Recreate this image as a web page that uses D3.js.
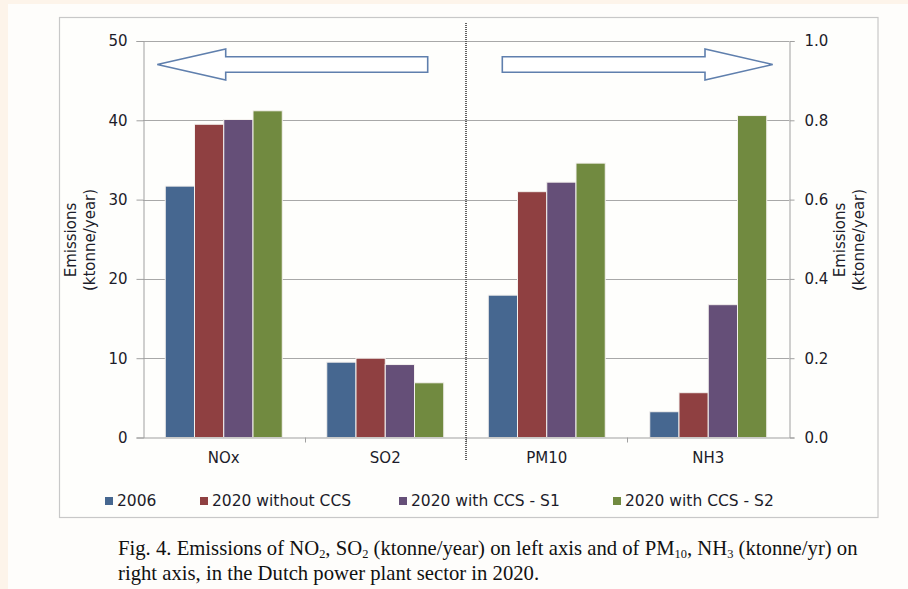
<!DOCTYPE html>
<html>
<head>
<meta charset="utf-8">
<script src="https://cdn.jsdelivr.net/npm/d3@7"></script>
<style>
  html, body { margin: 0; padding: 0; background: #fdf4ea; }
  svg { display: block; }
</style>
</head>
<body>
<svg id="chart" width="908" height="589"></svg>
<script>
// ---- data ----
const categories = ["NOx", "SO2", "PM10", "NH3"];
const categoryAxis = ["left", "left", "right", "right"];
const seriesNames = ["2006", "2020 without CCS", "2020 with CCS - S1", "2020 with CCS - S2"];
const values2006 = [31.7, 9.5, 0.359, 0.065];
const values2020NoCCS = [39.5, 10.0, 0.62, 0.113];
const values2020S1 = [40.1, 9.2, 0.644, 0.335];
const values2020S2 = [41.2, 6.9, 0.692, 0.812];
const leftTicks = [0, 10, 20, 30, 40, 50];
const rightTicks = [0.0, 0.2, 0.4, 0.6, 0.8, 1.0];
const seriesColors = ["#466790", "#8f4041", "#654f78", "#718a40"];

const seriesValues = [values2006, values2020NoCCS, values2020S1, values2020S2];

const svg = d3.select("#chart");
const font = "'DejaVu Sans', Verdana, sans-serif";
const textColor = "#1c1c2a";

// panel background
svg.append("rect").attr("x", 8).attr("y", 4).attr("width", 900).attr("height", 585).attr("fill", "#fefdfb");
// chart box
svg.append("rect").attr("x", 59.5).attr("y", 17.5).attr("width", 818.5).attr("height", 500)
  .attr("fill", "#fefefc").attr("stroke", "#c8c8c8").attr("stroke-width", 1.2);

const plotL = 143, plotR = 789, plotT = 41, plotB = 437.5;

const x = d3.scaleBand().domain(categories).range([plotL, plotR]).paddingInner(0.2755).paddingOuter(0.1378);
const xs = d3.scaleBand().domain(seriesNames).range([0, x.bandwidth()]).padding(0);
const yL = d3.scaleLinear().domain([0, 50]).range([plotB, plotT]);
const yR = d3.scaleLinear().domain([0, 1.0]).range([plotB, plotT]);

// gridlines
svg.append("g").selectAll("line").data(leftTicks.filter(d => d > 0)).join("line")
  .attr("x1", plotL).attr("x2", plotR)
  .attr("y1", d => Math.round(yL(d)) + 0.5).attr("y2", d => Math.round(yL(d)) + 0.5)
  .attr("stroke", "#a8a8a8").attr("stroke-width", 1);

// bars
const barData = [];
categories.forEach((c, ci) => {
  seriesNames.forEach((s, si) => {
    barData.push({ cat: c, series: s, si, value: seriesValues[si][ci], axis: categoryAxis[ci] });
  });
});
svg.append("g").selectAll("rect").data(barData).join("rect")
  .attr("x", d => x(d.cat) + xs(d.series))
  .attr("width", xs.bandwidth())
  .attr("y", d => (d.axis === "left" ? yL : yR)(d.value))
  .attr("height", d => plotB - (d.axis === "left" ? yL : yR)(d.value))
  .attr("fill", d => seriesColors[d.si])
  .attr("stroke", "#f4f1ee").attr("stroke-width", 1);

// left axis
const gL = svg.append("g").attr("transform", `translate(${plotL + 0.5},0)`)
  .call(d3.axisLeft(yL).tickValues(leftTicks).tickFormat(d3.format("d")).tickSizeOuter(0).tickSize(7).tickPadding(9));
// right axis
const gR = svg.append("g").attr("transform", `translate(${plotR + 0.5},0)`)
  .call(d3.axisRight(yR).tickValues(rightTicks).tickFormat(d3.format(".1f")).tickSizeOuter(0).tickSize(5).tickPadding(10));
// bottom axis
const gB = svg.append("g").attr("transform", `translate(0,${plotB})`)
  .call(d3.axisBottom(x).tickSize(0).tickPadding(15).tickSizeOuter(0));
// category boundary ticks
const bounds = categories.slice(1).map(c => x(c) - x.step() * x.paddingInner() / 2);
svg.append("g").selectAll("line").data(bounds).join("line")
  .attr("x1", d => Math.round(d) + 0.5).attr("x2", d => Math.round(d) + 0.5)
  .attr("y1", plotB).attr("y2", plotB + 5).attr("stroke", "#a0a0a0");

[gL, gR, gB].forEach(g => {
  g.selectAll("path.domain").attr("stroke", "#a0a0a0");
  g.selectAll(".tick line").attr("stroke", "#a0a0a0");
  g.selectAll("text").attr("font-family", font).attr("font-size", 15).attr("fill", textColor);
});

// dotted separator
const sepX = bounds[1];
svg.append("line").attr("x1", sepX).attr("x2", sepX).attr("y1", 23).attr("y2", 460)
  .attr("stroke", "#505050").attr("stroke-width", 1.8).attr("stroke-dasharray", "1,1");

// arrows
const arrowStyle = sel => sel.attr("fill", "#ffffff").attr("stroke", "#5f7fad").attr("stroke-width", 1.6);
const ay = 64.5;
svg.append("path").attr("d",
  `M157.3,${ay} L225.7,49 L225.7,56.7 L427.7,56.7 L427.7,72.3 L225.7,72.3 L225.7,80 Z`).call(arrowStyle);
svg.append("path").attr("d",
  `M772.7,${ay} L705,49 L705,56.7 L502.3,56.7 L502.3,72.3 L705,72.3 L705,80 Z`).call(arrowStyle);

// axis titles
function axisTitle(cx, cy) {
  const t = svg.append("text").attr("transform", `translate(${cx},${cy}) rotate(-90)`)
    .attr("text-anchor", "middle").attr("font-family", font).attr("font-size", 15).attr("fill", textColor);
  t.append("tspan").attr("x", 0).attr("y", 0).text("Emissions");
  t.append("tspan").attr("x", 0).attr("y", 19).text("(ktonne/year)");
}
axisTitle(76, 240);
axisTitle(845, 240);

// legend
const legendX = [105, 200, 399, 613];
const legend = svg.append("g").selectAll("g").data(seriesNames).join("g")
  .attr("transform", (d, i) => `translate(${legendX[i]},501)`);
legend.append("rect").attr("x", 0).attr("y", -4).attr("width", 8).attr("height", 8)
  .attr("fill", (d, i) => seriesColors[i]);
legend.append("text").attr("x", 12).attr("y", 0).attr("dy", "0.35em")
  .attr("font-family", font).attr("font-size", 15.5).attr("fill", textColor).text(d => d);

// caption
const capFont = "'Liberation Serif', 'Times New Roman', serif";
function captionLine(y, parts) {
  const t = svg.append("text").attr("x", 118).attr("y", y).attr("font-family", capFont)
    .attr("font-size", 19).attr("fill", "#111");
  let pending = 0;
  parts.forEach(p => {
    if (typeof p === "string") {
      const ts = t.append("tspan").text(p);
      if (pending) { ts.attr("dy", pending); pending = 0; }
    } else {
      t.append("tspan").attr("font-size", "0.6em").attr("dy", 3).text(p.sub);
      pending = -3;
    }
  });
  return t;
}
const l1 = captionLine(555, ["Fig. 4. Emissions of NO", {sub: "2"}, ", SO", {sub: "2"},
  " (ktonne/year) on left axis and of PM", {sub: "10"}, ", NH", {sub: "3"}, " (ktonne/yr) on"]);
const l2 = captionLine(580, ["right axis, in the Dutch power plant sector in 2020."]);
// fit font size to the reference line width
const w1 = l1.node().getComputedTextLength();
const scale = 740 / w1;
l1.attr("font-size", 19 * scale);
l2.attr("font-size", 19 * scale);
</script>
</body>
</html>
